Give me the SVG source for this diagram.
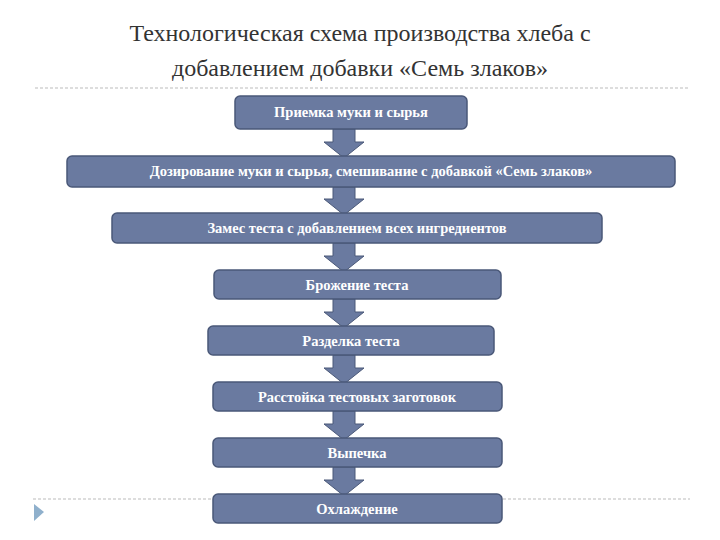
<svg xmlns="http://www.w3.org/2000/svg" width="720" height="540" viewBox="0 0 720 540">
<style>
.t{font-family:"Liberation Serif",serif;font-size:24px;fill:#333;text-anchor:middle}
.b{fill:#6a7aa0;stroke:#4a5878;stroke-width:1.5}
.l{font-family:"Liberation Serif",serif;font-size:14.5px;font-weight:bold;fill:#fff;text-anchor:middle}
.a{fill:#6a7aa0;stroke:#4a5878;stroke-width:1}
.d{stroke:#bbb;stroke-width:1;stroke-dasharray:3,2}
</style>
<rect width="720" height="540" fill="#fff"/>
<text class="t" x="360" y="41">Технологическая схема производства хлеба с</text>
<text class="t" x="360" y="76">добавлением добавки «Семь злаков»</text>
<line class="d" x1="35" y1="88" x2="690" y2="88"/>
<line class="d" x1="33" y1="499" x2="690" y2="499"/>
<polygon points="34,504 44,512 34,521" fill="#8fb0cc"/>
<g id="connectors">
<polygon class="a" points="333,129 355,129 355,142 364,142 344,158 324,142 333,142"/>
<polygon class="a" points="333,187 355,187 355,199 364,199 344,215 324,199 333,199"/>
<polygon class="a" points="333,243 355,243 355,256 364,256 344,272 324,256 333,256"/>
<polygon class="a" points="333,299 355,299 355,312 364,312 344,328 324,312 333,312"/>
<polygon class="a" points="333,355 355,355 355,368 364,368 344,384 324,368 333,368"/>
<polygon class="a" points="333,411 355,411 355,424 364,424 344,440 324,424 333,424"/>
<polygon class="a" points="333,467 355,467 355,480 364,480 344,496 324,480 333,480"/>
</g>
<g id="n1"><rect class="b" x="235" y="96" width="232" height="33" rx="5"/><text class="l" x="351" y="117">Приемка муки и сырья</text></g>
<g id="n2"><rect class="b" x="67" y="156" width="608" height="31" rx="5"/><text class="l" x="371" y="176">Дозирование муки и сырья, смешивание с добавкой «Семь злаков»</text></g>
<g id="n3"><rect class="b" x="112" y="213" width="490" height="30" rx="5"/><text class="l" x="357" y="233">Замес теста с добавлением всех ингредиентов</text></g>
<g id="n4"><rect class="b" x="214" y="270" width="287" height="29" rx="5"/><text class="l" x="357" y="290">Брожение теста</text></g>
<g id="n5"><rect class="b" x="208" y="326" width="286" height="29" rx="5"/><text class="l" x="351" y="346">Разделка теста</text></g>
<g id="n6"><rect class="b" x="213" y="382" width="289" height="29" rx="5"/><text class="l" x="357" y="402">Расстойка тестовых заготовок</text></g>
<g id="n7"><rect class="b" x="213" y="438" width="289" height="29" rx="5"/><text class="l" x="357" y="458">Выпечка</text></g>
<g id="n8"><rect class="b" x="213" y="494" width="289" height="29" rx="5"/><text class="l" x="357" y="514">Охлаждение</text></g>
</svg>
